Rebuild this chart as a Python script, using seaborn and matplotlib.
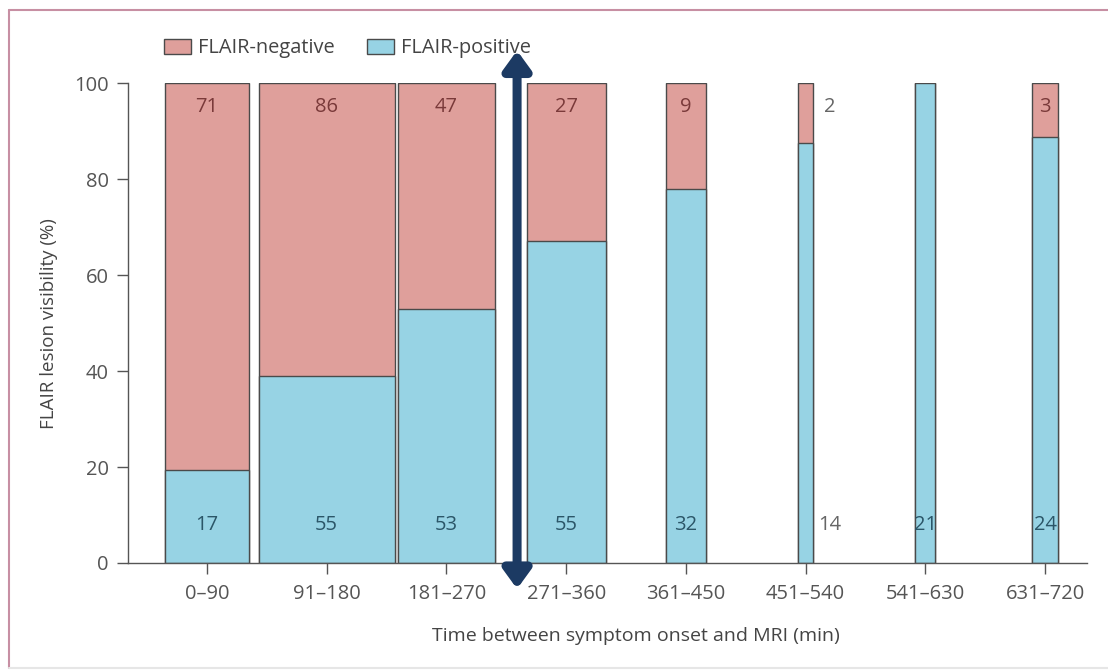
import matplotlib
matplotlib.use("Agg")
import matplotlib.pyplot as plt
import pandas as pd
import seaborn as sns
from matplotlib.patches import Patch
from matplotlib.lines import Line2D

# Data
bins = ["0–90", "91–180", "181–270", "271–360", "361–450", "451–540", "541–630", "631–720"]
flair_neg = [71, 86, 47, 27, 9, 2, 0, 3]
flair_pos = [17, 55, 53, 55, 32, 14, 21, 24]

df = pd.DataFrame({"bin": bins, "neg": flair_neg, "pos": flair_pos})
df["n"] = df["neg"] + df["pos"]
df["pct_pos"] = df["pos"] / df["n"] * 100
df["total"] = 100.0

neg_col = "#df9f9b"
pos_col = "#97d3e4"
edge_col = "#4a4a4a"

sns.set_style("white")
plt.rcParams["font.family"] = ["Open Sans", "DejaVu Sans"]

fig = plt.figure(figsize=(11.08, 6.71), dpi=100)
ax = fig.add_axes([0.1155, 0.161, 0.8655, 0.715])

sns.barplot(data=df, x="bin", y="total", color=neg_col, edgecolor=edge_col,
            linewidth=1, saturation=1, ax=ax)
sns.barplot(data=df, x="bin", y="pct_pos", color=pos_col, edgecolor=edge_col,
            linewidth=1, saturation=1, ax=ax)

# bar width proportional to number of patients in each bin
scale = 124.0
for k, p in enumerate(ax.patches):
    i = k % len(df)
    w = df["n"][i] / scale
    p.set_width(w)
    p.set_x(i - w / 2)

# counts inside the bars
for i, row in df.iterrows():
    narrow = row["n"] < 18
    dx = 0.2 if narrow else 0
    if row["neg"] > 0:
        ax.text(i + dx, 95, str(row["neg"]), ha="center", va="center", fontsize=14.5,
                color="#666666" if narrow else "#7a3a3a")
    ax.text(i + dx, 8, str(row["pos"]), ha="center", va="center", fontsize=14.5,
            color="#666666" if narrow else "#2b5668")

ax.set_xlim(-0.66, 7.35)
ax.set_ylim(0, 100)
ax.set_yticks([0, 20, 40, 60, 80, 100])
ax.set_ylabel("FLAIR lesion visibility (%)", fontsize=13.5, color="#444444")
ax.set_xlabel("Time between symptom onset and MRI (min)", fontsize=14, color="#444444")
ax.yaxis.set_label_coords(-0.073, 0.5)
ax.xaxis.set_label_coords(0.53, -0.133)
ax.tick_params(axis="both", direction="out", length=8, width=1, color="#555555",
               labelsize=14.5, labelcolor="#555555", bottom=True, left=True)
ax.tick_params(axis="x", pad=7)
ax.tick_params(axis="y", pad=6)
sns.despine(ax=ax)
for s in ["left", "bottom"]:
    ax.spines[s].set_color("#555555")
    ax.spines[s].set_linewidth(1)

# double-headed arrow between 181-270 and 271-360
ax.annotate("", xy=(2.59, 106.8), xytext=(2.59, -5.4), xycoords="data",
            arrowprops=dict(arrowstyle="<|-|>,head_length=1.1,head_width=0.8",
                            color="#1c3a63", lw=6.5, shrinkA=0, shrinkB=0),
            annotation_clip=False)

handles = [Patch(facecolor=neg_col, edgecolor=edge_col, label="FLAIR-negative"),
           Patch(facecolor=pos_col, edgecolor=edge_col, label="FLAIR-positive")]
fig.legend(handles=handles, loc="center left", bbox_to_anchor=(0.148, 0.928), ncol=2,
           frameon=False, fontsize=14.4, handlelength=1.35, handleheight=0.75,
           handletextpad=0.35, columnspacing=1.6, labelcolor="#444444",
           borderaxespad=0, borderpad=0)

# figure frame
fig.add_artist(Line2D([0.008, 1.0], [0.985, 0.985], transform=fig.transFigure, color="#c78fa3", lw=1.5))
fig.add_artist(Line2D([0.008, 0.008], [0.004, 0.985], transform=fig.transFigure, color="#c78fa3", lw=1.5))
fig.add_artist(Line2D([0.008, 1.0], [0.004, 0.004], transform=fig.transFigure, color="#e6e6e6", lw=1.5))

fig.savefig("out.png", dpi=100)
